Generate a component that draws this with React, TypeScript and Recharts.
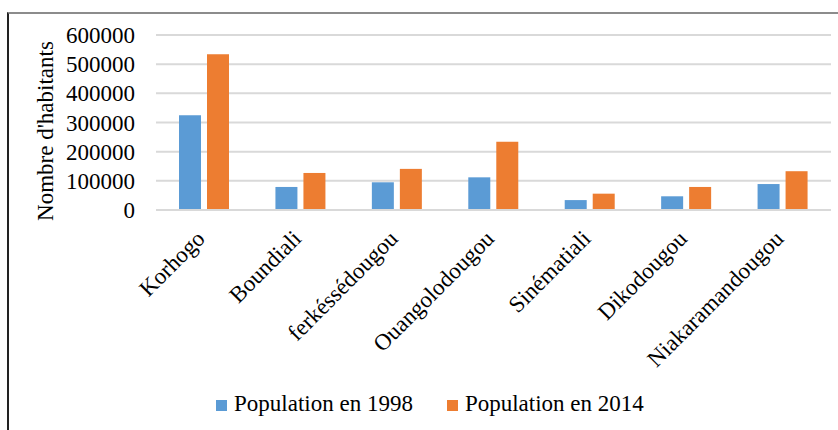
import { BarChart, Bar, XAxis, YAxis, CartesianGrid, Legend } from "recharts";

const communes = [
  "Korhogo",
  "Boundiali",
  "ferkéssédougou",
  "Ouangolodougou",
  "Sinématiali",
  "Dikodougou",
  "Niakaramandougou",
];
const pop1998 = [325000, 79000, 95000, 112000, 34000, 47000, 89000];
const pop2014 = [534000, 127000, 141000, 234000, 56000, 79000, 133000];
const yTicks = [0, 100000, 200000, 300000, 400000, 500000, 600000];
const series = ["Population en 1998", "Population en 2014"];
const couleurs = ["#5b9bd5", "#ed7d31"];

const police = "Liberation Serif, serif";

const data = communes.map((nom, i) => ({ nom, p1998: pop1998[i], p2014: pop2014[i] }));

function TickCommune({ x, y, payload }: any) {
  return (
    <g transform={`translate(${x + 2},${y + 30})`}>
      <text transform="rotate(-45)" textAnchor="end" fontSize={23} style={{ fontFamily: police }} fill="#000">
        {payload.value}
      </text>
    </g>
  );
}

function TitreAxe() {
  return (
    <text transform="translate(53,131) rotate(-90)" textAnchor="middle" fontSize={23} style={{ fontFamily: police }} fill="#000">
      Nombre d'habitants
    </text>
  );
}

function Legende() {
  return (
    <div style={{ fontFamily: police, fontSize: 23, color: "#000", whiteSpace: "nowrap", lineHeight: "normal" }}>
      {series.map((nom, i) => (
        <span key={nom} style={{ marginRight: i === 0 ? 34 : 0 }}>
          <span style={{ display: "inline-block", width: 11, height: 11, background: couleurs[i], marginRight: 7 }} />
          {nom}
        </span>
      ))}
    </div>
  );
}

export default function App() {
  return (
    <div style={{ position: "fixed", left: 0, top: 0, width: 838, height: 430, overflow: "hidden", background: "#fff" }}>
      <BarChart width={838} height={430} data={data} margin={{ top: 35, right: 7, left: 0, bottom: 0 }} barGap={6}>
        <CartesianGrid vertical={false} stroke="#d9d9d9" strokeWidth={2} />
        <XAxis
          dataKey="nom"
          height={220}
          interval={0}
          tickLine={false}
          tickSize={0}
          tickMargin={0}
          axisLine={{ stroke: "#d9d9d9", strokeWidth: 2 }}
          tick={<TickCommune />}
        />
        <YAxis
          width={156}
          domain={[0, 600000]}
          ticks={yTicks}
          interval={0}
          axisLine={false}
          tickLine={false}
          tickSize={0}
          tickMargin={21}
          tick={{ fill: "#000", fontSize: 23, style: { fontFamily: police } }}
          label={<TitreAxe />}
        />
        <Legend
          layout="horizontal"
          verticalAlign="middle"
          align="center"
          content={<Legende />}
          wrapperStyle={{ left: 216, top: 391, width: "auto" }}
        />
        <Bar dataKey="p1998" name={series[0]} fill={couleurs[0]} barSize={22} isAnimationActive={false} />
        <Bar dataKey="p2014" name={series[1]} fill={couleurs[1]} barSize={22} isAnimationActive={false} />
      </BarChart>
      <div
        style={{
          position: "absolute",
          zIndex: 5,
          pointerEvents: "none",
          left: 7,
          top: 12,
          width: 900,
          height: 500,
          boxSizing: "border-box",
          borderTop: "2px solid #8c8c8c",
          borderLeft: "2px solid #222",
        }}
      />
    </div>
  );
}
